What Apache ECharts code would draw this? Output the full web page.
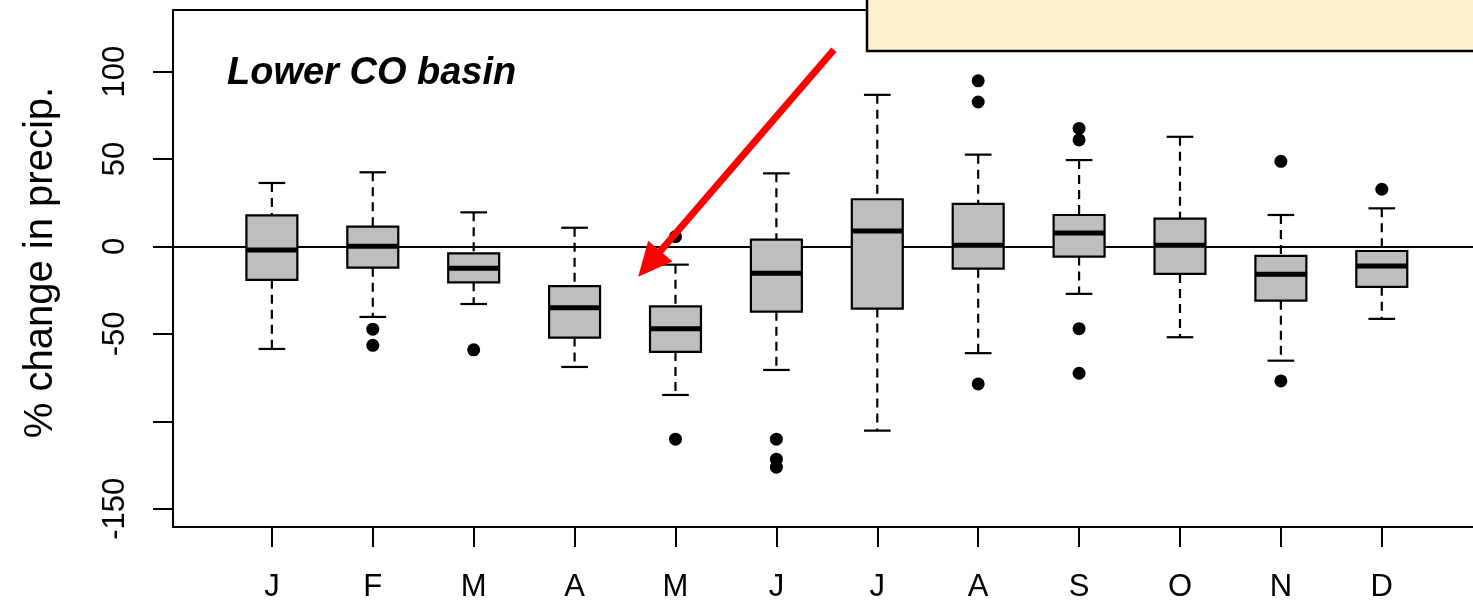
<!DOCTYPE html>
<html>
<head>
<meta charset="utf-8">
<script src="https://cdn.jsdelivr.net/npm/echarts@6/dist/echarts.min.js"></script>
<style>
html,body{margin:0;padding:0;background:#fff;overflow:hidden;}
#chart{width:1473px;height:605px;}
</style>
</head>
<body>
<div id="chart"></div>
<script>
// ---- data ----
const months = ['J','F','M','A','M','J','J','A','S','O','N','D'];
const whiskerLow  = [-58.6, -40.3, -32.9, -68.9, -84.9, -70.6, -105.3, -61.0, -27.1, -51.9, -65.3, -41.4];
const q1          = [-19.1, -12.1, -20.5, -52.1, -60.3, -37.3, -35.5, -12.7, -5.8, -15.7, -31.0, -23.1];
const median      = [-2.0, 0.1, -12.5, -35.1, -47.1, -15.3, 8.9, 0.7, 7.7, 0.7, -15.9, -11.1];
const q3          = [17.8, 11.3, -3.9, -22.7, -34.2, 3.9, 27.0, 24.3, 18.0, 15.9, -5.4, -2.6];
const whiskerHigh = [36.3, 42.4, 19.5, 10.7, -10.4, 41.8, 86.7, 52.5, 49.4, 62.7, 18.0, 21.8];
// outliers: [month number (1-12), value]
const outliers = [[2,-47.3],[2,-56.5],[3,-59.1],[5,-110.2],[5,5.6],[6,-110.2],[6,-121.6],[6,-126.2],
                  [8,94.7],[8,82.6],[8,-78.6],[9,67.5],[9,60.9],[9,-47.0],[9,-72.5],[11,48.7],[11,-76.9],[12,32.7]];
const yTicks = [-150, -100, -50, 0, 50, 100];
const yLabels = [-150, -50, 0, 50, 100];
const xTicks = months.map((m, i) => i + 1);
const yTitle = '% change in precip.';
const panelTitle = 'Lower CO basin';

const boxData = months.map((m, i) => [i + 1, whiskerLow[i], q1[i], median[i], q3[i], whiskerHigh[i]]);

const BOX_HALF = 0.2525, CAP_HALF = 0.132;
const FONT = '"Liberation Sans", Arial, Helvetica, sans-serif';
const X_MIN = 0.02, X_MAX = 12.904;   // plot region continues past the right edge of the picture

function renderBox(params, api) {
  const x = api.value(0), lo = api.value(1), b1 = api.value(2), md = api.value(3), b3 = api.value(4), hi = api.value(5);
  const P = (xx, yy) => api.coord([xx, yy]);
  const dash = {stroke: '#000', lineWidth: 2.2, lineDash: [9, 6], fill: null};
  const solid = {stroke: '#000', lineWidth: 2.2, fill: null};
  const pHi = P(x, hi), pB3 = P(x, b3), pB1 = P(x, b1), pLo = P(x, lo);
  const bl = P(x - BOX_HALF, b3), br = P(x + BOX_HALF, b1);
  const cl = P(x - CAP_HALF, hi), cr = P(x + CAP_HALF, hi);
  const ll = P(x - CAP_HALF, lo), lr = P(x + CAP_HALF, lo);
  const ml = P(x - BOX_HALF, md), mr = P(x + BOX_HALF, md);
  return {
    type: 'group',
    children: [
      {type: 'line', shape: {x1: pHi[0], y1: pHi[1], x2: pB3[0], y2: pB3[1]}, style: dash},
      {type: 'line', shape: {x1: pB1[0], y1: pB1[1], x2: pLo[0], y2: pLo[1]}, style: dash},
      {type: 'line', shape: {x1: cl[0], y1: cl[1], x2: cr[0], y2: cr[1]}, style: solid},
      {type: 'line', shape: {x1: ll[0], y1: ll[1], x2: lr[0], y2: lr[1]}, style: solid},
      {type: 'rect', shape: {x: bl[0], y: bl[1], width: br[0] - bl[0], height: br[1] - bl[1]},
       style: {fill: '#BEBEBE', stroke: '#000', lineWidth: 2.2}},
      {type: 'line', shape: {x1: ml[0], y1: ml[1], x2: mr[0], y2: mr[1]}, style: {stroke: '#000', lineWidth: 5}}
    ]
  };
}

const chart = echarts.init(document.getElementById('chart'), null, {renderer: 'canvas'});
chart.setOption({
  animation: false,
  backgroundColor: '#fff',
  grid: {left: 173, right: 0, top: 10, bottom: 78, show: false},
  xAxis: [{
    type: 'value', min: X_MIN, max: X_MAX, position: 'bottom',
    splitLine: {show: false},
    axisLine: {show: true, onZero: false, lineStyle: {color: '#000', width: 2}},
    axisTick: {show: true, customValues: xTicks, length: 20, lineStyle: {color: '#000', width: 2}},
    axisLabel: {show: true, customValues: xTicks, margin: 45, fontSize: 31, color: '#000', fontFamily: FONT,
                formatter: v => months[Math.round(v) - 1] || ''}
  }, {
    type: 'value', min: X_MIN, max: X_MAX, position: 'top',
    splitLine: {show: false},
    axisLine: {show: true, onZero: false, lineStyle: {color: '#000', width: 2}},
    axisTick: {show: false}, axisLabel: {show: false}
  }],
  yAxis: {
    type: 'value', min: -160.4, max: 135.2,
    splitLine: {show: false},
    axisLine: {show: true, onZero: false, lineStyle: {color: '#000', width: 2}},
    axisTick: {show: true, customValues: yTicks, length: 20, lineStyle: {color: '#000', width: 2}},
    axisLabel: {show: true, customValues: yLabels, rotate: 90, margin: 42, fontSize: 31, color: '#000', fontFamily: FONT},
    name: yTitle, nameLocation: 'middle', nameRotate: 90, nameGap: 112,
    nameTextStyle: {fontSize: 40, color: '#000', fontFamily: FONT, padding: [0, 0, 0, 12]}
  },
  series: [
    {
      type: 'custom', z: 3,
      renderItem: renderBox,
      data: boxData,
      encode: {x: 0, y: [1, 2, 3, 4, 5]},
      markLine: {
        silent: true, z: 1, symbol: ['none', 'none'],
        lineStyle: {color: '#000', width: 2, type: 'solid'},
        label: {show: false},
        data: [{yAxis: 0}]
      }
    },
    {
      type: 'scatter', z: 4,
      data: outliers,
      symbol: 'circle', symbolSize: 13,
      itemStyle: {color: '#000', opacity: 1},
      markLine: {
        silent: true, z: 10, symbol: ['none', 'triangle'], symbolSize: [32, 34],
        lineStyle: {color: '#ff0000', width: 7, type: 'solid', opacity: 1},
        itemStyle: {color: '#ff0000'},
        label: {show: false},
        data: [[{coord: [6.57, 112.5]}, {coord: [4.74, -10.0]}]]
      }
    }
  ],
  graphic: [
    {type: 'text', x: 227, y: 74, z: 20,
     style: {text: panelTitle, font: 'italic bold 38px ' + FONT, fill: '#000', verticalAlign: 'middle'}},
    {type: 'rect', x: 867, y: -10, z: 30,
     shape: {x: 0, y: 0, width: 700, height: 61},
     style: {fill: '#FFF0CC', stroke: '#000', lineWidth: 2.5}},
    {type: 'text', x: 1086, y: -24.5, z: 31,
     style: {text: 'p', font: '48px ' + FONT, fill: '#000', verticalAlign: 'middle'}}
  ]
});
</script>
</body>
</html>
